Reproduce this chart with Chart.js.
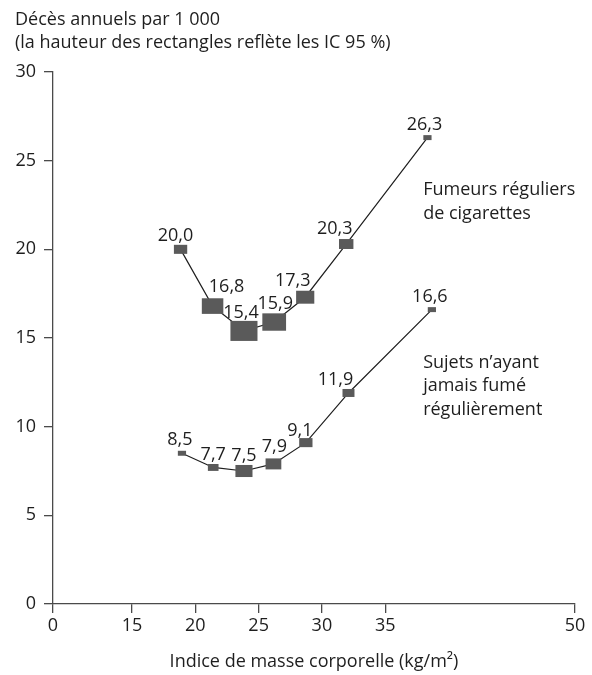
<!DOCTYPE html>
<html><head><meta charset="utf-8">
<script src="https://cdn.jsdelivr.net/npm/chart.js@4/dist/chart.umd.min.js"></script>
<style>html,body{margin:0;padding:0;background:#fff;}canvas{display:block;}</style>
</head><body>
<canvas id="c" width="592" height="675"></canvas>
<script>
// ---------------- data ----------------
const smokersBMI  = [18.83, 21.36, 23.84, 26.23, 28.68, 31.92, 38.34];
const smokersRate = [20.0, 16.8, 15.4, 15.9, 17.3, 20.3, 26.3];
const smokersCI   = [0.51, 0.88, 1.13, 0.98, 0.73, 0.56, 0.28];   // height of 95% CI (deaths per 1000)
const neverBMI    = [18.94, 21.41, 23.84, 26.17, 28.73, 32.10, 38.69];
const neverRate   = [8.5, 7.7, 7.5, 7.9, 9.1, 11.9, 16.6];
const neverCI     = [0.28, 0.39, 0.68, 0.62, 0.51, 0.45, 0.28];
const seriesNames = [['Fumeurs réguliers', 'de cigarettes'], ['Sujets n’ayant', 'jamais fumé', 'régulièrement']];
const xTickLabels = ['0', '15', '20', '25', '30', '35', '50'];
const xTickValues = [8.75, 15, 20, 25, 30, 35, 50];   // "0" sits at the broken start of the axis
const yTickValues = [0, 5, 10, 15, 20, 25, 30];
const titleLines  = ['Décès annuels par 1 000', '(la hauteur des rectangles reflète les IC 95 %)'];
const xTitle      = 'Indice de masse corporelle (kg/m²)';

// ---------------- drawing ----------------
const FONT = '"Open Sans", "Noto Sans", sans-serif';
const FS = 18;
const TEXT = '#1e1e1e';
const AXIS = '#4a4a4a';
const RECT = '#5a5a5a';

const pts = (xs, ys) => xs.map((v, i) => ({x: v, y: ys[i]}));
const fmt = v => v.toFixed(1).replace('.', ',');

// label offsets (px) relative to each point (centre of the digits)
const labelOffsets = [
  [[-5,-15],[14,-21],[-3,-19],[1,-20],[-12.5,-18],[-11.5,-16.5],[-3,-14]],
  [[-2,-15],[0,-14],[0,-17],[1,-18.5],[-6,-13],[-13,-14],[-2,-14]]
];
const ciSets = [smokersCI, neverCI];
const notePlacement = [{x: 38.0, y: 23.06}, {x: 38.0, y: 13.31}];

const overlay = {
  id: 'overlay',
  afterDatasetsDraw(chart) {
    const {ctx, scales: {x, y}} = chart;
    ctx.save();
    // CI rectangles
    ctx.fillStyle = RECT;
    chart.data.datasets.forEach((ds, di) => {
      const meta = chart.getDatasetMeta(di);
      meta.data.forEach((el, i) => {
        const v = ds.data[i].y, ci = ciSets[di][i];
        const top = y.getPixelForValue(v + ci / 2);
        const bot = y.getPixelForValue(v - ci / 2);
        const h = bot - top, w = h * 1.25 + 2;
        ctx.fillRect(el.x - w / 2, top, w, h);
      });
    });
    // value labels
    ctx.fillStyle = TEXT;
    ctx.font = FS + 'px ' + FONT;
    ctx.textAlign = 'center';
    ctx.textBaseline = 'alphabetic';
    chart.data.datasets.forEach((ds, di) => {
      const meta = chart.getDatasetMeta(di);
      meta.data.forEach((el, i) => {
        const [dx, dy] = labelOffsets[di][i];
        ctx.fillText(fmt(ds.data[i].y), el.x + dx, el.y + dy + 6.5);
      });
    });
    // series notes
    ctx.textAlign = 'left';
    seriesNames.forEach((lines, si) => {
      const px = x.getPixelForValue(notePlacement[si].x);
      const py = y.getPixelForValue(notePlacement[si].y);
      lines.forEach((t, k) => ctx.fillText(t, px, py + k * 23.5));
    });
    // axis heading (top-left)
    ctx.fillText(titleLines[0], 15, 25);
    ctx.fillText(titleLines[1], 15, 48);
    ctx.restore();
  }
};

new Chart(document.getElementById('c'), {
  type: 'line',
  data: {
    datasets: [
      {data: pts(smokersBMI, smokersRate), borderColor: '#1e1e1e', borderWidth: 1.2, pointRadius: 0, tension: 0, fill: false},
      {data: pts(neverBMI, neverRate), borderColor: '#1e1e1e', borderWidth: 1.2, pointRadius: 0, tension: 0, fill: false}
    ]
  },
  options: {
    responsive: false,
    animation: false,
    devicePixelRatio: 1,
    layout: {padding: {top: 72, right: 17, bottom: 0, left: 0}},
    plugins: {legend: {display: false}, tooltip: {enabled: false}, title: {display: false}},
    scales: {
      x: {
        type: 'linear',
        min: xTickValues[0], max: 50,
        afterBuildTicks: s => { s.ticks = xTickValues.map(v => ({value: v})); },
        afterFit: s => { s.height = 71; },
        ticks: {
          callback: (v, i) => xTickLabels[i],
          font: {family: FONT, size: FS}, color: TEXT, padding: 2, maxRotation: 0, autoSkip: false
        },
        grid: {display: true, drawOnChartArea: false, drawTicks: true, tickLength: 9, color: AXIS, lineWidth: 1.3},
        border: {display: true, color: AXIS, width: 1.3},
        title: {display: true, text: xTitle, font: {family: FONT, size: FS}, color: TEXT, padding: {top: 0, bottom: 2}}
      },
      y: {
        type: 'linear',
        min: 0, max: 30,
        afterBuildTicks: s => { s.ticks = yTickValues.map(v => ({value: v})); },
        afterFit: s => { s.width = 53; },
        ticks: {font: {family: FONT, size: FS}, color: TEXT, padding: 8},
        grid: {display: true, drawOnChartArea: false, drawTicks: true, tickLength: 9, color: AXIS, lineWidth: 1.3},
        border: {display: true, color: AXIS, width: 1.3}
      }
    }
  },
  plugins: [overlay]
});
</script>
</body></html>
